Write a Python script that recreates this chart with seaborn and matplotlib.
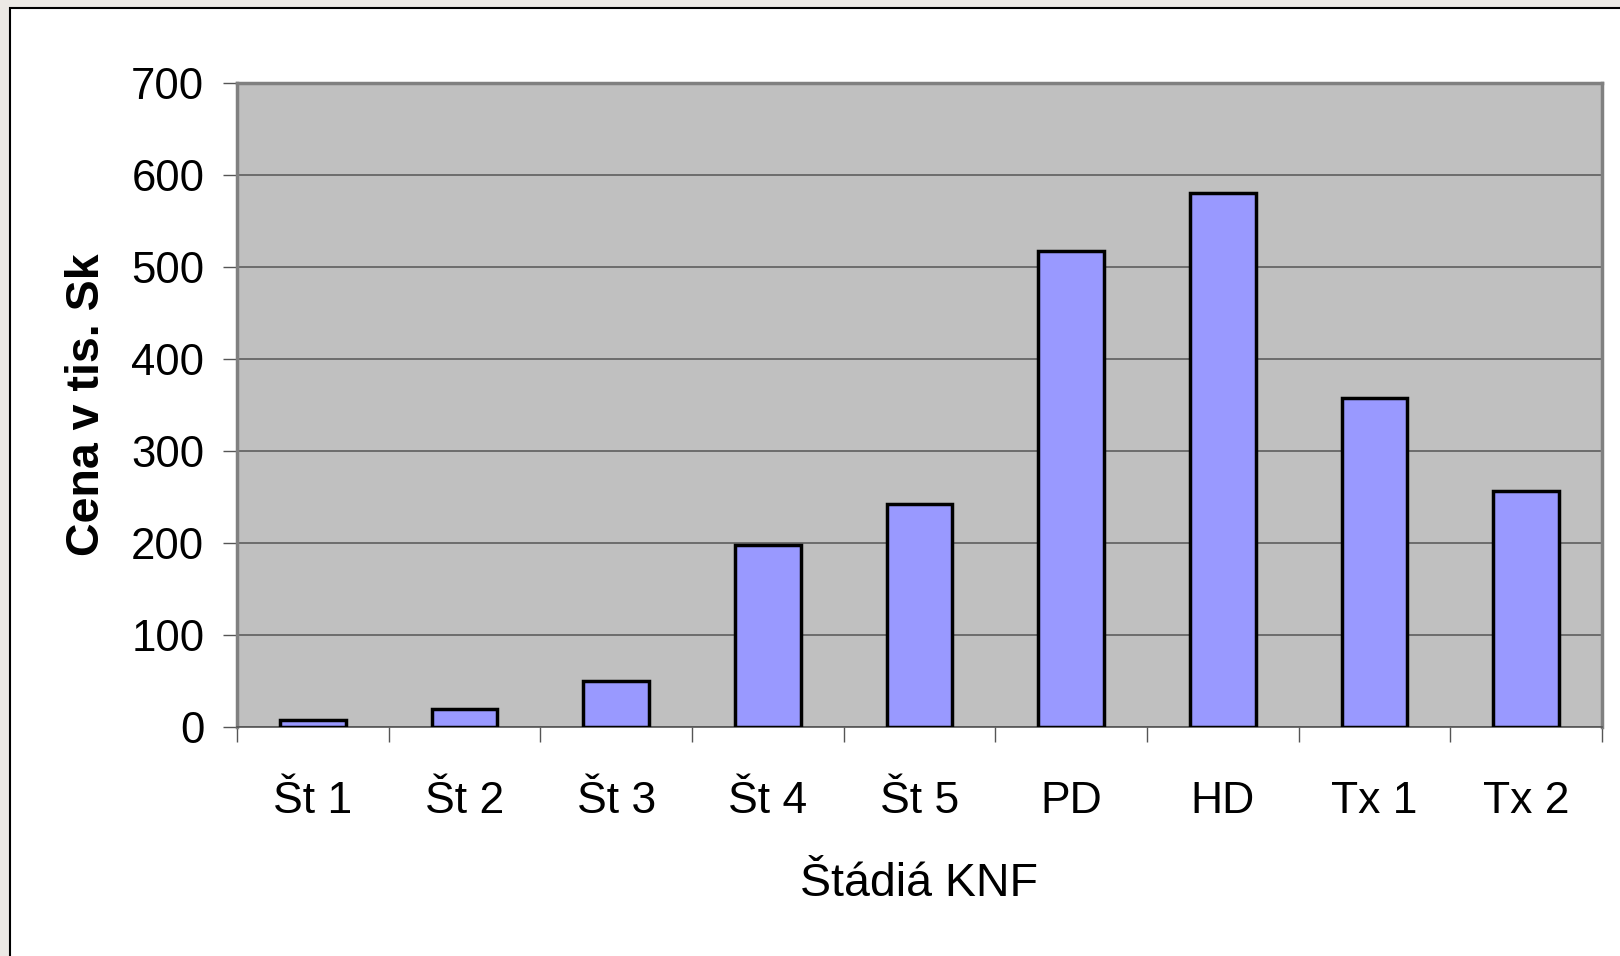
import matplotlib
matplotlib.use("Agg")
import matplotlib.pyplot as plt
import matplotlib.patches as mpatches
from matplotlib.ticker import FixedLocator
import seaborn as sns
import pandas as pd

stages = ["Št 1", "Št 2", "Št 3", "Št 4", "Št 5", "PD", "HD", "Tx 1", "Tx 2"]
cost = [8, 20, 50, 198, 242, 517, 580, 358, 257]
yticks = [0, 100, 200, 300, 400, 500, 600, 700]

plt.rcParams['font.family'] = ['Liberation Sans', 'DejaVu Sans']

df = pd.DataFrame({"stage": stages, "cost": cost})

fig = plt.figure(figsize=(16.2, 9.56), dpi=100, facecolor="#ECE9E5")
# white chart area with black frame
frame = mpatches.Rectangle((10 / 1620, -0.01), 1.0, 1 - 8 / 956 + 0.01,
                           transform=fig.transFigure, facecolor="white",
                           edgecolor="black", linewidth=1.5, zorder=-10)
fig.add_artist(frame)

ax = fig.add_axes([237 / 1620, 1 - 727 / 956, (1602 - 237) / 1620, (727 - 83) / 956])
ax.set_facecolor("#C0C0C0")

sns.barplot(data=df, x="stage", y="cost", color="#9999FF", edgecolor="black",
            linewidth=2.5, width=0.435, saturation=1, ax=ax, zorder=3)

ax.set_ylim(0, 700)
ax.set_xlim(-0.5, len(stages) - 0.5)
ax.set_yticks(yticks)
ax.yaxis.grid(True, color="#555555", linewidth=1.1, zorder=1)
ax.set_axisbelow(True)

for s in ["top", "right", "left"]:
    ax.spines[s].set_color("#808080")
    ax.spines[s].set_linewidth(2.5)
ax.spines["bottom"].set_color("#555555")
ax.spines["bottom"].set_linewidth(1.2)

ax.tick_params(axis="y", length=10, width=1, color="#555555", labelsize=31.5, pad=13.5)
ax.tick_params(axis="x", which="major", length=0, labelsize=32, pad=39)
ax.xaxis.set_minor_locator(FixedLocator([i - 0.5 for i in range(len(stages) + 1)]))
ax.tick_params(axis="x", which="minor", length=11, width=1, color="#555555")

ax.set_xlabel("Štádiá KNF", fontsize=33.5, labelpad=29)
ax.set_ylabel("Cena v tis. Sk", fontsize=33.5, fontweight="bold", labelpad=16)

fig.savefig("out.png", dpi=100, facecolor=fig.get_facecolor())
